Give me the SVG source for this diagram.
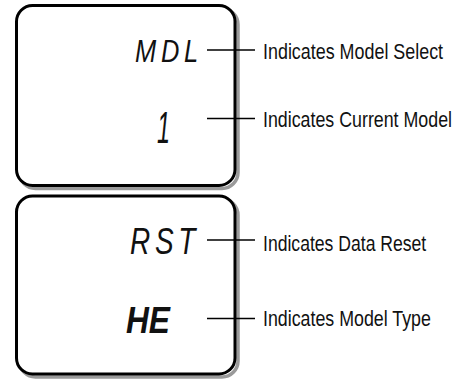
<svg xmlns="http://www.w3.org/2000/svg" width="467" height="379" viewBox="0 0 467 379">
<style>
.shadow{fill:none;stroke:#9a9a9a;stroke-width:3.5}
.box{fill:#fff;stroke:#000;stroke-width:3}
.lcd{font-family:"Liberation Sans",sans-serif;fill:#111;font-style:italic}
.lbl{font-family:"Liberation Sans",sans-serif;font-size:22px;fill:#111}
.conn line{stroke:#000;stroke-width:1.3}
</style>
<rect width="467" height="379" fill="#fff"/>
<g id="display1">
<rect class="shadow" x="19.5" y="8.5" width="218.5" height="180" rx="16"/>
<rect class="box" x="16.5" y="5.5" width="218.5" height="180" rx="16"/>
<text class="lcd" x="135" y="62" font-size="32" textLength="68" lengthAdjust="spacingAndGlyphs" letter-spacing="6">MDL</text>
<text class="lcd" x="157" y="143" font-size="45" textLength="13" lengthAdjust="spacingAndGlyphs">1</text>
</g>
<g id="display2">
<rect class="shadow" x="19.5" y="199" width="218.5" height="178" rx="16"/>
<rect class="box" x="16.5" y="196" width="218.5" height="178" rx="16"/>
<text class="lcd" x="130" y="254" font-size="36" textLength="70" lengthAdjust="spacingAndGlyphs" letter-spacing="6">RST</text>
<text class="lcd" x="126" y="333" font-size="36" font-weight="bold" textLength="44" lengthAdjust="spacingAndGlyphs">HE</text>
</g>
<g id="labels">
<text class="lbl" transform="translate(263,58.5) scale(0.814,1)">Indicates Model Select</text>
<text class="lbl" transform="translate(263,127) scale(0.81,1)">Indicates Current Model</text>
<text class="lbl" transform="translate(263,251) scale(0.80,1)">Indicates Data Reset</text>
<text class="lbl" transform="translate(263,326) scale(0.81,1)">Indicates Model Type</text>
</g>
<g class="conn" id="connectors">
<line x1="207" y1="50" x2="255" y2="50"/>
<line x1="207" y1="118.5" x2="255" y2="118.5"/>
<line x1="207" y1="240" x2="255" y2="240"/>
<line x1="207" y1="318.5" x2="255" y2="318.5"/>
</g>
</svg>
